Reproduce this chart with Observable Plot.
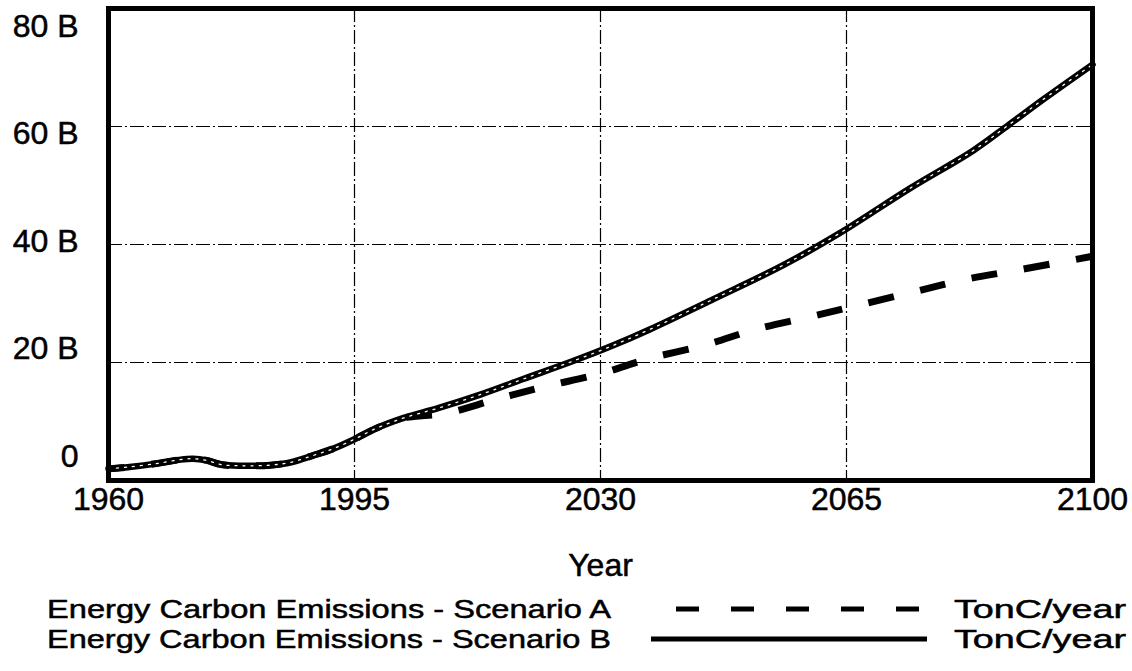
<!DOCTYPE html>
<html>
<head>
<meta charset="utf-8">
<script src="https://cdn.jsdelivr.net/npm/d3@7"></script>
<script src="https://cdn.jsdelivr.net/npm/@observablehq/plot@0.6"></script>
<style>
  html, body { margin: 0; padding: 0; background: #fff; }
  body { width: 1132px; height: 671px; overflow: hidden; font-family: "Liberation Sans", Arial, sans-serif; }
  #chart svg, #legend svg { display: block; overflow: visible; }
  svg text { stroke: black; stroke-width: 0.5px; }
</style>
</head>
<body>
<div id="chart"></div>
<div id="legend"></div>
<script>
// Scenario B (solid) — energy carbon emissions, billions TonC/year
const yearsB = [1960, 1963, 1967, 1970, 1972, 1974, 1976, 1979, 1983, 1986, 1989, 1992, 1995, 1998, 2002, 2007, 2013, 2019, 2026, 2032, 2037, 2046, 2056, 2064, 2074, 2083, 2088, 2093, 2100];
const valuesB = [2.0, 2.3, 2.9, 3.5, 3.7, 3.4, 2.7, 2.5, 2.6, 3.1, 4.2, 5.4, 7.0, 8.8, 10.6, 12.3, 14.6, 17.2, 20.2, 23.0, 25.6, 30.7, 36.5, 41.9, 49.5, 55.9, 60.2, 64.6, 70.5];
// Scenario A (dashed)
const yearsA = [1960, 1963, 1967, 1970, 1972, 1974, 1976, 1979, 1983, 1986, 1989, 1992, 1995, 1998, 2002, 2008, 2015, 2022, 2030, 2037, 2045, 2052, 2060, 2067, 2075, 2082, 2090, 2100];
const valuesA = [2.0, 2.3, 2.9, 3.5, 3.7, 3.4, 2.7, 2.5, 2.6, 3.1, 4.2, 5.4, 7.0, 8.8, 10.6, 11.4, 13.7, 15.9, 18.1, 20.7, 23.0, 25.6, 27.8, 29.8, 32.1, 34.1, 35.8, 38.0];

const xTicks = [1960, 1995, 2030, 2065, 2100];
const yTicks = [0, 20, 40, 60, 80];
const yTickLabels = ["0", "20 B", "40 B", "60 B", "80 B"];
const xLabel = "Year";
const seriesNames = ["Energy Carbon Emissions - Scenario A", "Energy Carbon Emissions - Scenario B"];
const unitLabel = "TonC/year";

const dataA = yearsA.map((y, i) => ({year: y, value: valuesA[i] * 1e9}));
const dataB = yearsB.map((y, i) => ({year: y, value: valuesB[i] * 1e9}));
const gridX = xTicks.slice(1, -1);
const gridY = yTicks.slice(1, -1).map(v => v * 1e9);

const font = "Liberation Sans, Arial, sans-serif";

const chart = Plot.plot({
  width: 1132,
  height: 592,
  marginTop: 8,
  marginBottom: 112,
  marginLeft: 108,
  marginRight: 40,
  style: {fontFamily: font, color: "black", background: "white", overflow: "visible"},
  x: {domain: [1960, 2100], axis: null},
  y: {domain: [0, 80e9], axis: null},
  marks: [
    Plot.ruleX(gridX, {stroke: "black", strokeWidth: 1.2, strokeDasharray: "14,3,2,3"}),
    Plot.ruleY(gridY, {stroke: "black", strokeWidth: 1.2, strokeDasharray: "14,3,2,3"}),
    Plot.line(dataA, {x: "year", y: "value", stroke: "black", strokeWidth: 7, strokeDasharray: "26,27", strokeDashoffset: 10, curve: "catmull-rom", strokeLinecap: "butt"}),
    Plot.line(dataB, {x: "year", y: "value", stroke: "black", strokeWidth: 6.5, curve: "catmull-rom"}),
    Plot.line(dataB, {x: "year", y: "value", stroke: "white", strokeWidth: 1.3, strokeDasharray: "2,6", curve: "catmull-rom"}),
    Plot.frame({stroke: "black", strokeWidth: 5}),
    Plot.axisX(xTicks, {tickSize: 0, tickPadding: 7, fontSize: 32, tickFormat: d => String(d), label: null}),
    Plot.text(yTicks, {
      frameAnchor: "left",
      y: d => (4.07 + d * 72.88 / 80) * 1e9,
      text: (d, i) => yTickLabels[i],
      textAnchor: "end",
      dx: -30,
      fontSize: 32,
      fill: "black"
    }),
    Plot.text([xLabel], {frameAnchor: "bottom", dy: 95, fontSize: 32, fill: "black"})
  ]
});
document.getElementById("chart").appendChild(chart);

// Legend below the plot
const lg = d3.select("#legend").append("svg")
  .attr("width", 1132).attr("height", 79)
  .style("font-family", font);
const rows = [
  {name: seriesNames[0], dashed: true, cy: 17},
  {name: seriesNames[1], dashed: false, cy: 47}
];
rows.forEach(r => {
  lg.append("text").attr("x", 47).attr("y", r.cy).attr("dy", "0.36em")
    .attr("font-size", 26).attr("textLength", 564).attr("lengthAdjust", "spacingAndGlyphs")
    .attr("fill", "black").text(r.name);
  const line = lg.append("line")
    .attr("x1", r.dashed ? 676 : 651).attr("x2", r.dashed ? 921 : 927)
    .attr("y1", r.cy).attr("y2", r.cy)
    .attr("stroke", "black").attr("stroke-width", 5);
  if (r.dashed) line.attr("stroke-dasharray", "23,32");
  lg.append("text").attr("x", 1126).attr("y", r.cy).attr("dy", "0.36em")
    .attr("text-anchor", "end").attr("font-size", 26).attr("textLength", 172).attr("lengthAdjust", "spacingAndGlyphs")
    .attr("fill", "black").text(unitLabel);
});
</script>
</body>
</html>
